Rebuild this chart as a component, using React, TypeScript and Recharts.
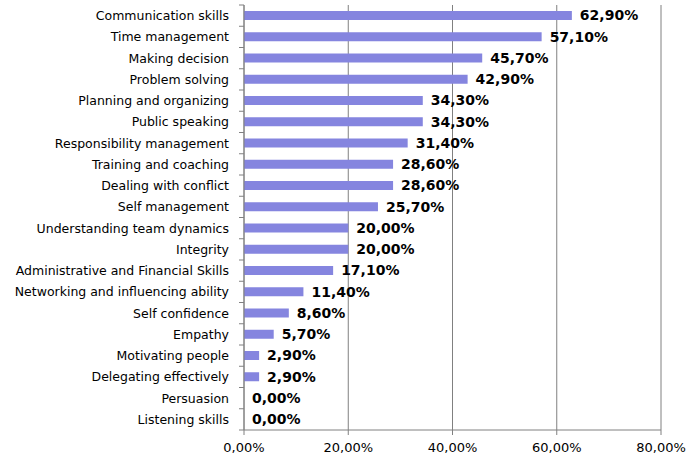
import React from 'react';
import { BarChart, Bar, XAxis, YAxis, CartesianGrid, LabelList } from 'recharts';

const categories = [
  'Communication skills',
  'Time management',
  'Making decision',
  'Problem solving',
  'Planning and organizing',
  'Public speaking',
  'Responsibility management',
  'Training and coaching',
  'Dealing with conflict',
  'Self management',
  'Understanding team dynamics',
  'Integrity',
  'Administrative and Financial Skills',
  'Networking and influencing ability',
  'Self confidence',
  'Empathy',
  'Motivating people',
  'Delegating effectively',
  'Persuasion',
  'Listening skills',
];

const shares = [62.9, 57.1, 45.7, 42.9, 34.3, 34.3, 31.4, 28.6, 28.6, 25.7, 20.0, 20.0, 17.1, 11.4, 8.6, 5.7, 2.9, 2.9, 0, 0];

const xTicks = [0, 20, 40, 60, 80];

const data = categories.map((name, i) => ({ name, value: shares[i] }));

const WIDTH = 688;
const HEIGHT = 462;
const MARGIN = { top: 5, right: 27, bottom: 0, left: 0 };
const X_AXIS_H = 32;
const TICK_SIZE = 5;
const TICK_MARGIN = 10;
const BAND = (HEIGHT - MARGIN.top - MARGIN.bottom - X_AXIS_H) / categories.length;

const FONT = '"DejaVu Sans", Verdana, sans-serif';
const GRID = '#808080';

const pct = (v: any) => `${Number(v).toFixed(2).replace('.', ',')}%`;

// ticks sit between categories, like the spreadsheet chart
const CategoryTick = (props: any) => {
  const { x, y, payload, index } = props;
  const axisX = x + TICK_SIZE + TICK_MARGIN;
  const half = BAND / 2;
  return (
    <g>
      <line x1={axisX - TICK_SIZE} x2={axisX} y1={y - half} y2={y - half} stroke={GRID} />
      {index === categories.length - 1 && (
        <line x1={axisX - TICK_SIZE} x2={axisX} y1={y + half} y2={y + half} stroke={GRID} />
      )}
      <text x={x} y={y} dy="0.35em" textAnchor="end" fontSize={12.5} fontFamily={FONT} fill="#000">
        {payload.value}
      </text>
    </g>
  );
};

const App: React.FC = () => {
  return (
    <div style={{ width: WIDTH, height: HEIGHT, background: '#fff' }}>
      <style>{`body { margin: 0; }`}</style>
      <BarChart width={WIDTH} height={HEIGHT} data={data} layout="vertical" margin={MARGIN}>
        <CartesianGrid horizontal={false} stroke={GRID} />
        <XAxis
          type="number"
          domain={[0, 80]}
          ticks={xTicks}
          tickFormatter={pct}
          height={X_AXIS_H}
          stroke={GRID}
          tickSize={5}
          tickMargin={8}
          tick={{ fill: '#000', fontSize: 13, fontFamily: FONT }}
        />
        <YAxis
          type="category"
          dataKey="name"
          width={244}
          stroke={GRID}
          tickLine={false}
          tickSize={TICK_SIZE}
          tickMargin={TICK_MARGIN}
          interval={0}
          tick={<CategoryTick />}
        />
        <Bar dataKey="value" fill="#8585DF" barSize={9} minPointSize={0.01} isAnimationActive={false}>
          <LabelList
            dataKey="value"
            position="right"
            offset={8}
            formatter={pct}
            fill="#000"
            fontSize={14}
            fontWeight="bold"
            fontFamily={FONT}
          />
        </Bar>
      </BarChart>
    </div>
  );
};

export default App;
